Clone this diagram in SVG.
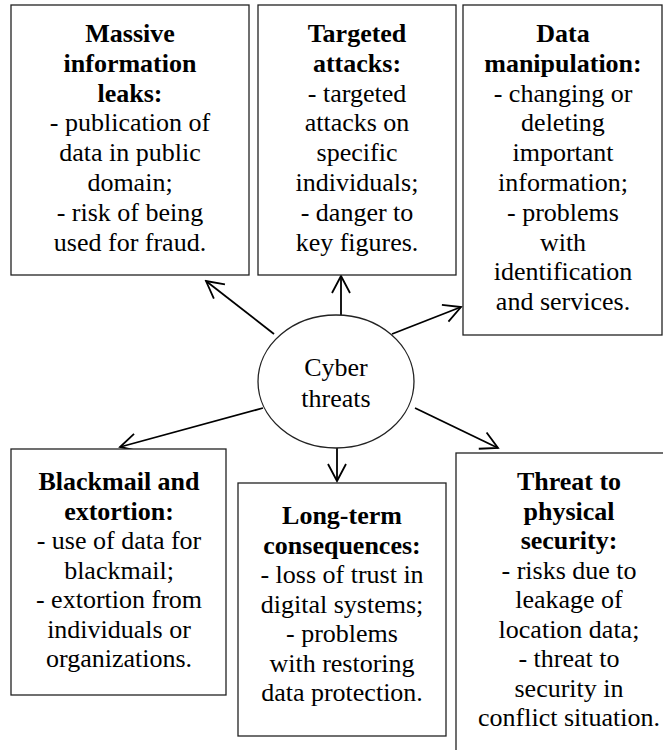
<svg xmlns="http://www.w3.org/2000/svg" width="663" height="750" viewBox="0 0 663 750">
<style>
.box{fill:#fff;stroke:#222;stroke-width:1.3}
.t{font-family:"Liberation Serif",Tinos,"Times New Roman","Nimbus Roman","DejaVu Serif","Noto Serif",serif;font-size:26px;fill:#000;text-anchor:middle}
.b{font-weight:bold}
.c{fill:none;stroke:#000;stroke-width:1.8}
</style>
<defs>
<marker id="ah" markerUnits="userSpaceOnUse" viewBox="-20 -12 22 24" refX="0" refY="0" markerWidth="22" markerHeight="24" orient="auto">
<path d="M-17,-9 L0,0 L-17,9" fill="none" stroke="#000" stroke-width="1.8"/>
</marker>
</defs>
<rect width="663" height="750" fill="#fff"/>
<g id="connectors">
<line class="c" x1="274" y1="334" x2="206" y2="281" marker-end="url(#ah)"/>
<line class="c" x1="341" y1="315" x2="341" y2="276" marker-end="url(#ah)"/>
<line class="c" x1="392" y1="334" x2="461" y2="307" marker-end="url(#ah)"/>
<line class="c" x1="263" y1="408" x2="120" y2="447" marker-end="url(#ah)"/>
<line class="c" x1="337" y1="448" x2="337" y2="481" marker-end="url(#ah)"/>
<line class="c" x1="415" y1="408" x2="498" y2="448" marker-end="url(#ah)"/>
</g>
<g id="center">
<ellipse cx="336" cy="381.5" rx="78" ry="66.5" fill="#fff" stroke="#222" stroke-width="1.3"/>
<text class="t" x="336" y="376">Cyber</text>
<text class="t" x="336" y="407">threats</text>
</g>
<g id="massive">
<rect class="box" x="11" y="5" width="238" height="270"/>
<text class="t" x="130" y="42"><tspan class="b">Massive</tspan><tspan class="b" x="130" dy="29.8">information</tspan><tspan class="b" x="130" dy="29.8">leaks:</tspan><tspan x="130" dy="29.8">- publication of</tspan><tspan x="130" dy="29.8">data in public</tspan><tspan x="130" dy="29.8">domain;</tspan><tspan x="130" dy="29.8">- risk of being</tspan><tspan x="130" dy="29.8">used for fraud.</tspan></text>
</g>
<g id="targeted">
<rect class="box" x="258" y="5" width="198" height="270"/>
<text class="t" x="357" y="42"><tspan class="b">Targeted</tspan><tspan class="b" x="357" dy="29.8">attacks:</tspan><tspan x="357" dy="29.8">- targeted</tspan><tspan x="357" dy="29.8">attacks on</tspan><tspan x="357" dy="29.8">specific</tspan><tspan x="357" dy="29.8">individuals;</tspan><tspan x="357" dy="29.8">- danger to</tspan><tspan x="357" dy="29.8">key figures.</tspan></text>
</g>
<g id="data">
<rect class="box" x="463" y="5" width="199" height="330"/>
<text class="t" x="563" y="42"><tspan class="b">Data</tspan><tspan class="b" x="563" dy="29.8">manipulation:</tspan><tspan x="563" dy="29.8">- changing or</tspan><tspan x="563" dy="29.8">deleting</tspan><tspan x="563" dy="29.8">important</tspan><tspan x="563" dy="29.8">information;</tspan><tspan x="563" dy="29.8">- problems</tspan><tspan x="563" dy="29.8">with</tspan><tspan x="563" dy="29.8">identification</tspan><tspan x="563" dy="29.8">and services.</tspan></text>
</g>
<g id="blackmail">
<rect class="box" x="11" y="449" width="215" height="246"/>
<text class="t" x="119" y="490"><tspan class="b">Blackmail and</tspan><tspan class="b" x="119" dy="29.5">extortion:</tspan><tspan x="119" dy="29.5">- use of data for</tspan><tspan x="119" dy="29.5">blackmail;</tspan><tspan x="119" dy="29.5">- extortion from</tspan><tspan x="119" dy="29.5">individuals or</tspan><tspan x="119" dy="29.5">organizations.</tspan></text>
</g>
<g id="longterm">
<rect class="box" x="238" y="483" width="208" height="253"/>
<text class="t" x="342" y="524"><tspan class="b">Long-term</tspan><tspan class="b" x="342" dy="29.5">consequences:</tspan><tspan x="342" dy="29.5">- loss of trust in</tspan><tspan x="342" dy="29.5">digital systems;</tspan><tspan x="342" dy="29.5">- problems</tspan><tspan x="342" dy="29.5">with restoring</tspan><tspan x="342" dy="29.5">data protection.</tspan></text>
</g>
<g id="physical">
<rect class="box" x="456" y="453" width="240" height="320"/>
<text class="t" x="569" y="490"><tspan class="b">Threat to</tspan><tspan class="b" x="569" dy="29.5">physical</tspan><tspan class="b" x="569" dy="29.5">security:</tspan><tspan x="569" dy="29.5">- risks due to</tspan><tspan x="569" dy="29.5">leakage of</tspan><tspan x="569" dy="29.5">location data;</tspan><tspan x="569" dy="29.5">- threat to</tspan><tspan x="569" dy="29.5">security in</tspan><tspan x="569" dy="29.5">conflict situation.</tspan></text>
</g>
</svg>
